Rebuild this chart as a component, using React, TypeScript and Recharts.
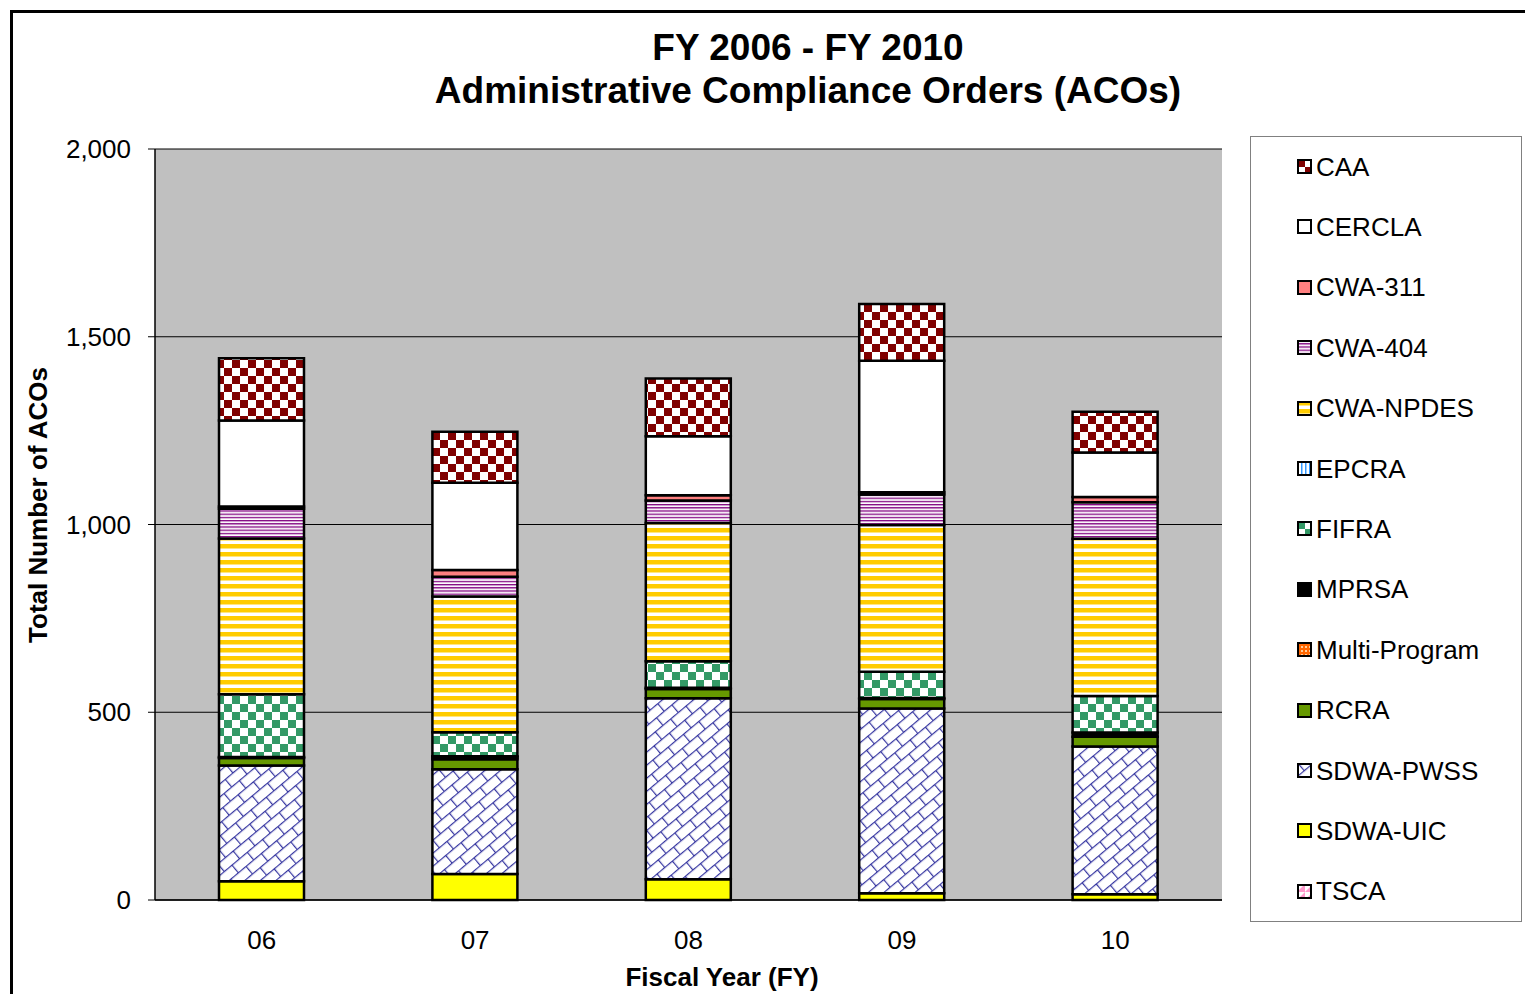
import React from 'react';
import {
  BarChart,
  Bar,
  XAxis,
  YAxis,
  CartesianGrid,
} from 'recharts';

const years = ['06', '07', '08', '09', '10'];

const caa = [166, 136, 154, 151, 108];
const cercla = [229, 232, 157, 350, 119];
const cwa311 = [6, 18, 14, 6, 14];
const cwa404 = [79, 53, 60, 81, 97];
const cwaNpdes = [415, 361, 368, 391, 419];
const epcra = [0, 0, 0, 0, 0];
const fifra = [167, 64, 71, 70, 97];
const mprsa = [3, 3, 3, 3, 11];
const multiProgram = [0, 5, 0, 0, 0];
const rcra = [20, 27, 25, 25, 26];
const sdwaPwss = [308, 279, 482, 492, 394];
const sdwaUic = [50, 69, 55, 18, 15];
const tsca = [0, 0, 0, 0, 0];

const yTicks = [0, 500, 1000, 1500, 2000];

// legend order (top to bottom); stacking goes the other way
const series = [
  { key: 'CAA', values: caa, fill: 'url(#p-caa)' },
  { key: 'CERCLA', values: cercla, fill: '#FFFFFF' },
  { key: 'CWA-311', values: cwa311, fill: '#FF8080' },
  { key: 'CWA-404', values: cwa404, fill: 'url(#p-cwa404)' },
  { key: 'CWA-NPDES', values: cwaNpdes, fill: 'url(#p-npdes)' },
  { key: 'EPCRA', values: epcra, fill: 'url(#p-epcra)' },
  { key: 'FIFRA', values: fifra, fill: 'url(#p-fifra)' },
  { key: 'MPRSA', values: mprsa, fill: '#000000' },
  { key: 'Multi-Program', values: multiProgram, fill: 'url(#p-multi)' },
  { key: 'RCRA', values: rcra, fill: '#669900' },
  { key: 'SDWA-PWSS', values: sdwaPwss, fill: 'url(#p-pwss)' },
  { key: 'SDWA-UIC', values: sdwaUic, fill: '#FFFF00' },
  { key: 'TSCA', values: tsca, fill: 'url(#p-tsca)' },
];

const data = years.map((fy, i) => {
  const row: Record<string, string | number> = { fy };
  series.forEach((s) => {
    row[s.key] = s.values[i];
  });
  return row;
});

const FONT = '"Liberation Sans", Arial, sans-serif';

// the frame runs right up to the window edge; keep scrollbars away
if (typeof document !== 'undefined') {
  document.documentElement.style.overflow = 'hidden';
  document.body.style.overflow = 'hidden';
}

function Patterns() {
  return (
    <svg width="0" height="0" style={{ position: 'absolute' }}>
      <defs>
        <pattern id="p-caa" patternUnits="userSpaceOnUse" width="16" height="16">
          <rect width="16" height="16" fill="#fff" />
          <rect x="0" y="0" width="8" height="8" fill="#800000" />
          <rect x="8" y="8" width="8" height="8" fill="#800000" />
        </pattern>
        <pattern id="p-fifra" patternUnits="userSpaceOnUse" width="16" height="16">
          <rect width="16" height="16" fill="#fff" />
          <rect x="0" y="0" width="8" height="8" fill="#339966" />
          <rect x="8" y="8" width="8" height="8" fill="#339966" />
        </pattern>
        <pattern id="p-cwa404" patternUnits="userSpaceOnUse" width="4" height="3.2">
          <rect width="4" height="3.2" fill="#fff" />
          <rect y="0" width="4" height="1.3" fill="#800080" />
          <rect y="1.3" width="4" height="0.5" fill="#CC99CC" />
        </pattern>
        <pattern id="p-npdes" patternUnits="userSpaceOnUse" width="8" height="8">
          <rect width="8" height="8" fill="#fff" />
          <rect y="0" width="8" height="4" fill="#FFCC00" />
          <rect y="4" width="8" height="1" fill="#FFE680" />
        </pattern>
        <pattern id="p-epcra" patternUnits="userSpaceOnUse" width="4" height="4">
          <rect width="4" height="4" fill="#fff" />
          <rect x="0" width="1.5" height="4" fill="#3399FF" />
        </pattern>
        <pattern id="p-multi" patternUnits="userSpaceOnUse" width="4" height="4">
          <rect width="4" height="4" fill="#FF6600" />
          <rect x="0" y="0" width="2" height="2" fill="#FFCC99" />
        </pattern>
        <pattern id="p-tsca" patternUnits="userSpaceOnUse" width="8" height="8">
          <rect width="8" height="8" fill="#fff" />
          <path d="M8,0 L8,8 L0,8 Z" fill="#FF99CC" />
        </pattern>
        <pattern
          id="p-pwss"
          patternUnits="userSpaceOnUse"
          width="20"
          height="20"
          patternTransform="rotate(-40)"
        >
          <rect width="20" height="20" fill="#fff" />
          <g stroke="#3535A0" strokeWidth="1.2" fill="none">
            <line x1="0" y1="0.6" x2="20" y2="0.6" />
            <line x1="0" y1="10.6" x2="20" y2="10.6" />
            <line x1="0.6" y1="0" x2="0.6" y2="10.6" />
            <line x1="10.6" y1="10.6" x2="10.6" y2="20" />
          </g>
        </pattern>
      </defs>
    </svg>
  );
}

function ChartLegend() {
  return (
    <div
      style={{
        position: 'absolute',
        left: 1242,
        top: 128,
        width: 270,
        height: 784,
        border: '1px solid #808080',
        background: '#fff',
      }}
    >
      {series.map((s, i) => (
        <div
          key={s.key}
          style={{
            position: 'absolute',
            left: 46,
            top: 30 + i * 60.4 - 16,
            height: 32,
            display: 'flex',
            alignItems: 'center',
            fontFamily: FONT,
            fontSize: 26,
            color: '#000',
            whiteSpace: 'nowrap',
          }}
        >
          <svg width="16" height="16" style={{ marginRight: 3 }}>
            <rect x="1" y="1" width="13" height="13" fill={s.fill} stroke="#000" strokeWidth="2" />
          </svg>
          {s.key}
        </div>
      ))}
    </div>
  );
}

export default function App() {
  const stacked = [...series].reverse();
  return (
    <div style={{ position: 'relative', height: 986, fontFamily: FONT }}>
      <Patterns />
      <div
        style={{
          position: 'absolute',
          left: 2,
          top: 2,
          width: 1523,
          height: 984,
          borderTop: '3px solid #000',
          borderLeft: '3px solid #000',
          boxSizing: 'border-box',
        }}
      />
      <div
        style={{
          position: 'absolute',
          left: 300,
          top: 18,
          width: 1000,
          textAlign: 'center',
          fontWeight: 'bold',
          fontSize: 37,
          lineHeight: '43px',
          color: '#000',
        }}
      >
        <div>FY 2006 - FY 2010</div>
        <div>Administrative Compliance Orders (ACOs)</div>
      </div>

      <BarChart
        width={1240}
        height={986}
        data={data}
        margin={{ top: 141, right: 26, bottom: 34, left: 27 }}
        barCategoryGap="10%"
        style={{ position: 'absolute', left: 0, top: 0 }}
      >
        <CartesianGrid
          vertical={false}
          stroke="#000"
          strokeWidth={1}
          fill="#C0C0C0"
          fillOpacity={1}
        />
        <XAxis
          dataKey="fy"
          height={60}
          tickLine={false}
          tickSize={6}
          tickMargin={25}
          axisLine={{ stroke: '#000', strokeWidth: 1.5 }}
          tick={{ fill: '#000', fontSize: 26, fontFamily: FONT }}
        />
        <XAxis
          xAxisId="top"
          orientation="top"
          dataKey="fy"
          height={0}
          tick={false}
          tickLine={false}
          axisLine={{ stroke: '#808080', strokeWidth: 1.5 }}
        />
        <YAxis
          width={120}
          domain={[0, 2000]}
          ticks={yTicks}
          tickSize={7}
          tickMargin={17}
          tickFormatter={(v: number) => v.toLocaleString('en-US')}
          axisLine={{ stroke: '#000', strokeWidth: 1.5 }}
          tickLine={{ stroke: '#000' }}
          tick={{ fill: '#000', fontSize: 26, fontFamily: FONT }}
        />
        <YAxis
          yAxisId="right"
          orientation="right"
          width={0}
          domain={[0, 2000]}
          tick={false}
          tickLine={false}
          axisLine={{ stroke: '#808080', strokeWidth: 1.5 }}
        />
        {stacked.map((s) => (
          <Bar
            key={s.key}
            dataKey={s.key}
            stackId="a"
            fill={s.fill}
            stroke="#000"
            strokeWidth={2.5}
            barSize={85}
            isAnimationActive={false}
          />
        ))}
      </BarChart>

      <div
        style={{
          position: 'absolute',
          left: 30 - 200,
          top: 497 - 16,
          width: 400,
          height: 32,
          lineHeight: '32px',
          textAlign: 'center',
          transform: 'rotate(-90deg)',
          fontWeight: 'bold',
          fontSize: 26,
          color: '#000',
        }}
      >
        Total Number of ACOs
      </div>
      <div
        style={{
          position: 'absolute',
          left: 714 - 200,
          top: 969 - 16,
          width: 400,
          height: 32,
          lineHeight: '32px',
          textAlign: 'center',
          fontWeight: 'bold',
          fontSize: 26,
          color: '#000',
        }}
      >
        Fiscal Year (FY)
      </div>

      <ChartLegend />
    </div>
  );
}
